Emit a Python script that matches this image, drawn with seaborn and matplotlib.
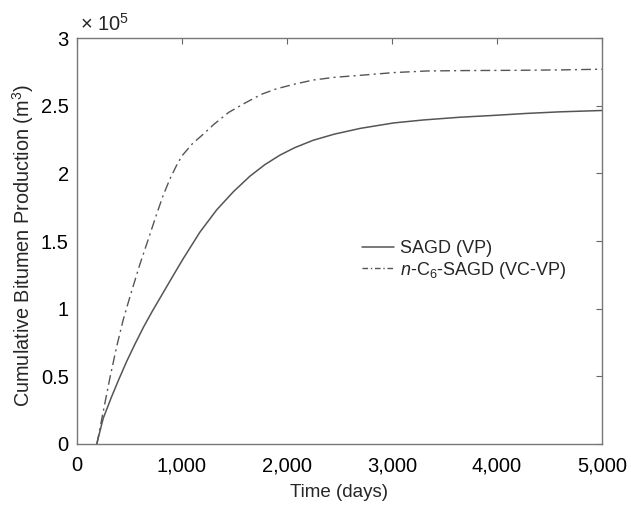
import numpy as np
import pandas as pd
import matplotlib
matplotlib.use("Agg")
import matplotlib.pyplot as plt
import seaborn as sns
from matplotlib.ticker import FuncFormatter

sagd_time = [188, 250, 330, 400, 473, 550, 631, 720, 822, 920, 1012, 1170, 1330, 1490,
             1648, 1790, 1933, 2073, 2250, 2450, 2700, 3016, 3300, 3645, 4000, 4274, 4600, 5000]
sagd_prod = [0, 0.19e5, 0.35e5, 0.48e5, 0.61e5, 0.735e5, 0.86e5, 0.985e5, 1.12e5, 1.25e5,
             1.37e5, 1.565e5, 1.73e5, 1.865e5, 1.98e5, 2.065e5, 2.135e5, 2.19e5, 2.245e5,
             2.29e5, 2.333e5, 2.373e5, 2.395e5, 2.415e5, 2.43e5, 2.443e5, 2.455e5, 2.465e5]

c6_time = [190, 250, 314, 378, 441, 505, 600, 695, 759, 822, 886, 949, 1000, 1100, 1203,
           1300, 1443, 1600, 1758, 1900, 2073, 2250, 2450, 2700, 3016, 3330, 3700, 4200,
           4600, 5000]
c6_prod = [0, 0.24e5, 0.49e5, 0.72e5, 0.92e5, 1.09e5, 1.33e5, 1.55e5, 1.70e5, 1.84e5,
           1.96e5, 2.06e5, 2.13e5, 2.22e5, 2.29e5, 2.36e5, 2.45e5, 2.52e5, 2.585e5, 2.625e5,
           2.66e5, 2.69e5, 2.71e5, 2.725e5, 2.745e5, 2.757e5, 2.76e5, 2.762e5, 2.765e5,
           2.77e5]

labels = ["SAGD (VP)", "$n$-C$_6$-SAGD (VC-VP)"]
x_ticks = [0, 1000, 2000, 3000, 4000, 5000]
y_ticks = [0, 0.5e5, 1e5, 1.5e5, 2e5, 2.5e5, 3e5]

sns.set_style("white")
plt.rcParams['font.family'] = ['Liberation Sans', 'DejaVu Sans']
plt.rcParams['mathtext.fontset'] = 'custom'
plt.rcParams['mathtext.rm'] = 'Liberation Sans'
plt.rcParams['mathtext.it'] = 'Liberation Sans:italic'

fig = plt.figure(figsize=(6.31, 5.08), dpi=100)
ax = fig.add_axes([0.122, 0.126, 0.832, 0.799])

df1 = pd.DataFrame({"t": sagd_time, "p": sagd_prod})
df2 = pd.DataFrame({"t": c6_time, "p": c6_prod})
sns.lineplot(data=df1, x="t", y="p", ax=ax, color="#555555", lw=1.1, label=labels[0])
sns.lineplot(data=df2, x="t", y="p", ax=ax, color="#555555", lw=1.0, label=labels[1])
ax.lines[1].set_dashes([7, 3, 1.5, 3])

ax.set_xlim(0, 5000)
ax.set_ylim(0, 3e5)
ax.set_xticks(x_ticks)
ax.set_yticks(y_ticks)
ax.xaxis.set_major_formatter(FuncFormatter(lambda v, p: f"{int(v):,}"))
ax.yaxis.set_major_formatter(FuncFormatter(lambda v, p: f"{v/1e5:g}"))
ax.tick_params(direction="in", length=4, width=0.8, color="#666666",
               top=True, right=True, labelsize=14.5, labelcolor="black", pad=6)
ax.tick_params(axis="x", pad=9)
for s in ax.spines.values():
    s.set_color("#777777")
    s.set_linewidth(1.0)

ax.set_xlabel("Time (days)", fontsize=13.5, labelpad=6)
ax.set_ylabel("Cumulative Bitumen Production (m$^3$)", fontsize=14.3)
ax.yaxis.set_label_coords(-0.078, 0.488)
ax.text(0.005, 1.008, "× 10$^5$", transform=ax.transAxes, fontsize=14.5, ha="left", va="bottom")

leg = ax.legend(loc="center left", bbox_to_anchor=(0.512, 0.452), frameon=False,
                fontsize=13, handlelength=1.75, handletextpad=0.35, labelspacing=0.12)
leg.get_lines()[1].set_dashes([4, 2, 1, 2])

fig.savefig("out.png", dpi=100)
